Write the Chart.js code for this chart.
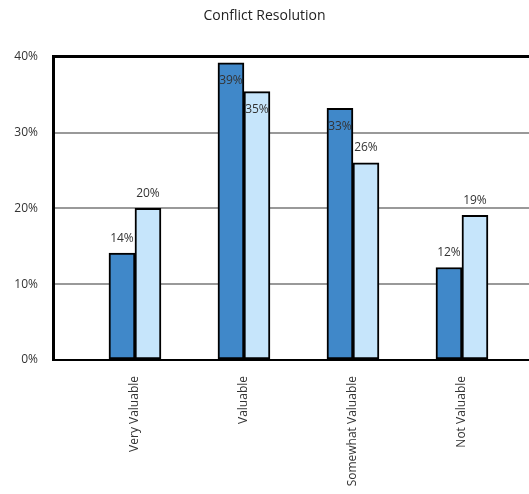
<!DOCTYPE html>
<html>
<head>
<meta charset="utf-8">
<script src="https://cdn.jsdelivr.net/npm/chart.js@4/dist/chart.umd.min.js"></script>
<style>
  body { margin: 0; background: #fff; overflow: hidden; }
</style>
</head>
<body>
<canvas id="ChartConflict" width="529" height="494"></canvas>
<script>
// Conflict Resolution
var categories = ['Very Valuable', 'Valuable', 'Somewhat Valuable', 'Not Valuable'];
var series1 = [14.1, 39.2, 33.2, 12.2];
var series2 = [20.0, 35.4, 26.0, 19.1];
var yTicks = [0, 10, 20, 30, 40];

function points(values) {
    return values.map(function (v, i) { return { x: i + 1, y: v }; });
}

// подписи над столбцами
var barLabels = {
    id: 'barLabels',
    afterDatasetsDraw: function (chart) {
        var ctx = chart.ctx;
        ctx.save();
        ctx.font = '12px "Open Sans"';
        ctx.fillStyle = '#333';
        ctx.textAlign = 'center';
        ctx.textBaseline = 'middle';
        chart.data.datasets.forEach(function (ds, di) {
            chart.getDatasetMeta(di).data.forEach(function (bar, i) {
                var v = ds.data[i].y;
                var y = v > 30 ? bar.y + 18 : bar.y - 15;
                ctx.fillText(Math.round(v) + '%', bar.x, y);
            });
        });
        ctx.restore();
    }
};

var ConflictCanvas = document.getElementById('ChartConflict');

var barChart = new Chart(ConflictCanvas, {
    type: 'bar',
    data: {
        datasets: [
            {
                data: points(series1),
                backgroundColor: '#4088c9',
                borderColor: '#000',
                borderWidth: 2,
                borderSkipped: false
            },
            {
                data: points(series2),
                backgroundColor: '#c6e5fb',
                borderColor: '#000',
                borderWidth: 2,
                borderSkipped: false
            }]
    },
    options: {
        responsive: false,
        animation: false,
        barThickness: 26,
        layout: { padding: 0 },
        plugins: {
            legend: { display: false },
            tooltip: { enabled: false },
            title: {
                display: true,
                text: 'Conflict Resolution',
                color: '#222',
                font: { family: '"Open Sans"', size: 14, weight: 'normal' },
                padding: { top: 8, bottom: 32 }
            }
        },
        scales: {
            x: {
                type: 'linear',
                offset: false,
                min: 0.248,
                max: 4.615,
                afterBuildTicks: function (scale) {
                    scale.ticks = categories.map(function (c, i) { return { value: i + 1 }; });
                },
                afterFit: function (scale) { scale.height = 134; },
                grid: { display: false, drawTicks: false, offset: false },
                border: { display: true, color: '#000', width: 2 },
                ticks: {
                    autoSkip: false,
                    minRotation: 90,
                    maxRotation: 90,
                    padding: 16,
                    color: '#333',
                    font: { family: '"Open Sans"', size: 12 },
                    callback: function (v) { return categories[v - 1] || ''; }
                }
            },
            y: {
                min: 0,
                max: 40,
                afterBuildTicks: function (scale) {
                    scale.ticks = yTicks.map(function (t) { return { value: t }; });
                },
                afterFit: function (scale) { scale.width = 53; },
                grid: {
                    drawTicks: false,
                    color: function (c) {
                        if (c.tick.value === 40) return '#000';
                        if (c.tick.value === 0) return 'rgba(0,0,0,0)';
                        return '#999';
                    },
                    lineWidth: function (c) { return c.tick.value === 40 ? 3 : 2; }
                },
                border: { display: true, color: '#000', width: 3 },
                ticks: {
                    padding: 15,
                    color: '#333',
                    font: { family: '"Open Sans"', size: 12 },
                    callback: function (v) { return v + '%'; }
                }
            }
        }
    },
    plugins: [barLabels]
});
</script>
</body>
</html>
